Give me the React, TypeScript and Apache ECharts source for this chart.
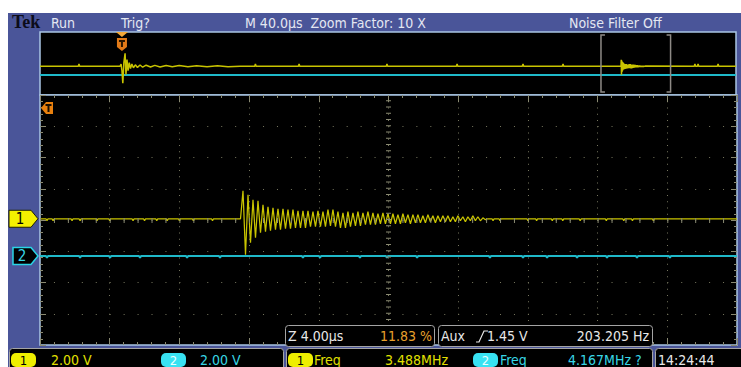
import React, { useEffect, useRef } from "react";
import * as echarts from "echarts";

const W = 741;
const H = 367;

// ---- Acquisition settings ----
const RECORD_SPAN_US = 400; // M 40.0 µs/div x 10 div
const ZOOM_SPAN_US = 40; // Z 4.00 µs/div x 10 div
const ZOOM_START_US = 322.4; // zoom window start inside the record
const TRIGGER_US = 47.1;
const CH1_VOLTS_PER_DIV = 2.0;
const CH2_VOLTS_PER_DIV = 2.0;
const CH1_POS_DIV = 0.04;
const CH2_POS_DIV = -1.15;

// ---- Channel 1: ringing burst, successive half-cycle extremes (V) ----
const CH1_BURST_START_US = 11.65;
const CH1_HALF_PERIOD_US = 0.1434;
const CH1_BURST_V = [
  1.79, -2.3, 1.54, -1.54, 1.22, -1.22, 1.15, -0.9, 0.9, -0.83,
  0.77, -0.77, 0.7, -0.7, 0.64, -0.7, 0.64, -0.64, 0.58, -0.64,
  0.58, -0.58, 0.51, -0.58, 0.51, -0.58, 0.51, -0.51, 0.45, -0.51,
  0.51, -0.51, 0.45, -0.51, 0.58, -0.45, 0.58, -0.51, 0.45, -0.58,
  0.38, -0.58, 0.45, -0.51, 0.38, -0.45, 0.45, -0.45, 0.38, -0.38,
  0.45, -0.38, 0.38, -0.38, 0.32, -0.32, 0.38, -0.32, 0.32, -0.32,
  0.32, -0.32, 0.26, -0.32, 0.32, -0.26, 0.26, -0.32, 0.26, -0.26,
  0.26, -0.26, 0.19, -0.26, 0.26, -0.19, 0.19, -0.26, 0.19, -0.19,
  0.19, -0.19, 0.19, -0.19, 0.13, -0.19, 0.19, -0.13, 0.13, -0.19,
  0.13, -0.13, 0.19, -0.13, 0.13, -0.13, 0.06, -0.06,
];

// Event at the trigger point of the record: [time µs, V]
const CH1_TRIG_EVENT: [number, number][] = [
  [46.0, 0], [46.6, 0.6], [47.1, -1.2], [47.6, -4.6], [48.2, 1.0], [48.9, 3.5],
  [49.4, -2.2], [50.0, 1.8], [50.6, -1.2], [51.3, 1.0], [52.0, -0.6], [52.8, 0.6],
  [53.7, -0.4], [54.8, 0.4], [56.0, -0.3], [57.5, 0.35], [59.0, -0.25], [61.0, 0.3],
  [63.5, -0.2], [66.0, 0.25], [69.0, -0.2], [72.5, 0.2], [76.0, -0.15], [80.0, 0.2],
  [85.0, -0.12], [90.0, 0.18], [96.0, -0.1], [102.0, 0.15], [108.0, -0.1], [115.0, 0],
];

// Isolated glitches on the channel 1 record (µs) and their height (V)
const CH1_RECORD_BLIPS_US = [22.4, 123.8, 148.9, 199.4, 239.7, 277.6, 300.6, 376.4, 378.2, 389.7];
const CH1_RECORD_BLIP_V = 0.6;

// Small negative glitches inside the zoom window (µs)
const CH1_ZOOM_DIPS_US = [0.4, 0.75, 1.84, 2.3, 3.27, 4.0, 5.34, 6.0, 6.7, 7.3, 8.0, 8.8, 9.9,
  26.0, 26.4, 28.0, 28.5, 29.4, 30.0, 31.0, 32.5, 33.5, 34.0, 35.2];
const CH2_ZOOM_DIPS_US = [0.4, 2.3, 4.02, 5.74, 8.44, 10.33, 15.09, 16.07, 18.36, 19.91, 21.64,
  25.82, 27.72, 29.1, 30.82, 32.54, 34.26, 36.15];
const DIP_V = -0.12;

// ---- Screen texts ----
const HEADER_BRAND = "Tek";
const HEADER_STATE = "Run";
const HEADER_TRIG = "Trig?";
const HEADER_TIMEBASE = "M 40.0µs  Zoom Factor: 10 X";
const HEADER_FILTER = "Noise Filter Off";
const ZOOM_READOUT = ["Z 4.00µs", "11.83 %"];
const AUX_READOUT = ["Aux", "1.45 V", "203.205 Hz"];
const CH_SCALE_LABELS = ["2.00 V", "2.00 V"];
const MEAS_LABELS = ["Freq", "3.488MHz", "Freq", "4.167MHz ?"];
const CLOCK = "14:24:44";

// ---- Palette ----
const BLUE = "#4a5599";
const FRAME = "#a9c5e4";
const TICK = "#8a8a72";
const DOT = "#77775f";
const YELLOW = "#c9c400";
const CYAN = "#1fb9c9";
const TXT_YELLOW = "#e2e000";
const TXT_CYAN = "#38d6e6";
const ORANGE = "#e8a02c";
const FONT = '"Liberation Sans Narrow", "DejaVu Sans Condensed", "Roboto Condensed", "Liberation Sans", sans-serif';

type Pt = [number, number];

const byTime = (pts: Pt[]) => [...pts].sort((a, b) => a[0] - b[0]);
const spikes = (times: number[], v: number, half: number): Pt[] =>
  times.flatMap((t) => [[t - half, 0], [t, v], [t + half, 0]] as Pt[]);
const ch1Div = (v: number) => CH1_POS_DIV + v / CH1_VOLTS_PER_DIV;
const ch2Div = (v: number) => CH2_POS_DIV + v / CH2_VOLTS_PER_DIV;

function burstSegment(): Pt[] {
  const pts: Pt[] = CH1_BURST_V.map((v, i) => [CH1_BURST_START_US + i * CH1_HALF_PERIOD_US, v]);
  const end = CH1_BURST_START_US + CH1_BURST_V.length * CH1_HALF_PERIOD_US;
  return [[CH1_BURST_START_US - CH1_HALF_PERIOD_US, 0], ...pts, [end, 0]];
}

function buildOption(): echarts.EChartsOption {
  const burst = burstSegment();
  const ch1Zoom = byTime([[0, 0], ...spikes(CH1_ZOOM_DIPS_US, DIP_V, 0.06), ...burst, [ZOOM_SPAN_US, 0]])
    .map(([t, v]) => [t, ch1Div(v)]);
  const ch2Zoom = byTime([[0, 0], ...spikes(CH2_ZOOM_DIPS_US, DIP_V, 0.06), [ZOOM_SPAN_US, 0]])
    .map(([t, v]) => [t, ch2Div(v)]);
  const ch1Record = byTime([
    [0, 0],
    ...CH1_TRIG_EVENT,
    ...spikes(CH1_RECORD_BLIPS_US, CH1_RECORD_BLIP_V, 0.4),
    ...burst.map(([t, v]) => [t + ZOOM_START_US, v] as Pt),
    [RECORD_SPAN_US, 0],
  ]).map(([t, v]) => [t, ch1Div(v)]);
  const ch2Record = [[0, ch2Div(0)], [RECORD_SPAN_US, ch2Div(0)]];

  const tickStyle = { color: TICK, width: 1 };
  const xEdge = (position: "top" | "bottom", split: boolean) => ({
    type: "value" as const,
    gridIndex: 1,
    position,
    min: 0,
    max: ZOOM_SPAN_US,
    interval: ZOOM_SPAN_US / 10,
    axisLine: { show: false, onZero: false },
    axisLabel: { show: false },
    axisTick: { show: true, inside: true, length: 7, lineStyle: tickStyle },
    minorTick: { show: true, splitNumber: 5, length: 3, lineStyle: tickStyle },
    splitLine: {
      show: split,
      showMinLine: false,
      showMaxLine: false,
      lineStyle: { color: DOT, width: 1, type: [1, 5.25] },
    },
  });
  const yEdge = (position: "left" | "right", split: boolean) => ({
    type: "value" as const,
    gridIndex: 1,
    position,
    min: -4,
    max: 4,
    interval: 1,
    axisLine: { show: false, onZero: false },
    axisLabel: { show: false },
    axisTick: { show: true, inside: true, length: 6, lineStyle: tickStyle },
    minorTick: { show: true, splitNumber: 5, length: 3, lineStyle: tickStyle },
    splitLine: {
      show: split,
      showMinLine: false,
      showMaxLine: false,
      lineStyle: { color: DOT, width: 1, type: [1, 12.94] },
    },
  });

  const line = (xi: number, yi: number, data: number[][], color: string, width: number, z: number) => ({
    type: "line" as const,
    xAxisIndex: xi,
    yAxisIndex: yi,
    data,
    showSymbol: false,
    symbol: "none",
    silent: true,
    z,
    lineStyle: { color, width },
  });

  return {
    animation: false,
    backgroundColor: "#ffffff",
    grid: [
      { left: 40, top: 32, width: 696, height: 63, show: true, backgroundColor: "#000", borderColor: FRAME, borderWidth: 1.5 },
      { left: 40, top: 95, width: 697, height: 250, show: true, backgroundColor: "#000", borderColor: FRAME, borderWidth: 1.5 },
    ],
    xAxis: [
      { type: "value", gridIndex: 0, min: 0, max: RECORD_SPAN_US, show: false },
      xEdge("top", true),
      xEdge("bottom", false),
    ],
    yAxis: [
      { type: "value", gridIndex: 0, min: -3.85, max: 4.69, show: false },
      yEdge("left", true),
      yEdge("right", false),
    ],
    series: [
      line(0, 0, ch2Record, CYAN, 2, 2),
      line(0, 0, ch1Record, YELLOW, 1.5, 3),
      {
        ...line(1, 1, ch2Zoom, CYAN, 2, 2),
        markLine: {
          silent: true,
          symbol: "none",
          label: { show: false },
          animation: false,
          data: [
            { xAxis: ZOOM_SPAN_US / 2, lineStyle: { color: TICK, width: 5, type: [1, 5.25] } },
            { yAxis: 0, lineStyle: { color: TICK, width: 5, type: [1, 12.94] } },
          ],
        },
      },
      line(1, 1, ch1Zoom, YELLOW, 1.25, 3),
    ],
  } as echarts.EChartsOption;
}

function txt(text: string, x: number, y: number, fill: string, size = 14, align = "left", extra: any = {}) {
  return {
    type: "text",
    x,
    y,
    z: 20,
    silent: true,
    style: { text, fill, font: `${size}px ${FONT}`, align, verticalAlign: "middle", ...extra },
  };
}

function box(x: number, y: number, w: number, h: number) {
  return {
    type: "rect",
    z: 15,
    silent: true,
    shape: { x, y, width: w, height: h, r: 3 },
    style: { fill: "#000", stroke: "#a4a4a4", lineWidth: 1 },
  };
}

function badge(x: number, y: number, label: string, fill: string, textFill: string) {
  return [
    { type: "rect", z: 18, silent: true, shape: { x, y, width: 25, height: 14, r: 5 }, style: { fill } },
    txt(label, x + 12.5, y + 7.5, textFill, 13, "center"),
  ];
}

function buildGraphics(chart: echarts.ECharts) {
  const ovX = (t: number) => (chart.convertToPixel({ xAxisIndex: 0, yAxisIndex: 0 }, [t, 0]) as number[])[0];
  const mainY = (d: number) => (chart.convertToPixel({ xAxisIndex: 1, yAxisIndex: 1 }, [0, d]) as number[])[1];

  const y1 = mainY(CH1_POS_DIV);
  const y2 = mainY(CH2_POS_DIV);
  const tx = ovX(TRIGGER_US);
  const xs = ovX(ZOOM_START_US);
  const xe = ovX(ZOOM_START_US + ZOOM_SPAN_US);
  const rowY = 359.5;
  const zY = 336;

  return [
    // instrument frame
    { type: "rect", z: -10, silent: true, shape: { x: 8, y: 13, width: W - 8, height: H - 13 }, style: { fill: BLUE } },

    // header
    {
      type: "text", x: 12, y: 22, z: 20, silent: true,
      style: { text: HEADER_BRAND, fill: "#0c0c1a", font: 'bold 18px "Liberation Serif", "DejaVu Serif", serif', verticalAlign: "middle" },
    },
    txt(HEADER_STATE, 51, 23, "#e4e7f2"),
    txt(HEADER_TRIG, 121, 23, "#e4e7f2"),
    txt(HEADER_TIMEBASE, 245, 23, "#e4e7f2"),
    txt(HEADER_FILTER, 569, 23, "#e4e7f2"),

    // trigger position marker on the record view
    { type: "polygon", z: 20, silent: true, shape: { points: [[tx - 6, 32], [tx + 6, 32], [tx, 37]] }, style: { fill: "#f4a838" } },
    { type: "polygon", z: 20, silent: true, shape: { points: [[tx - 5, 38], [tx + 5, 38], [tx + 5, 47], [tx, 51], [tx - 5, 47]] }, style: { fill: "#e27a18" } },
    { type: "rect", z: 21, silent: true, shape: { x: tx - 3, y: 40, width: 6, height: 2 }, style: { fill: "#2a1600" } },
    { type: "rect", z: 21, silent: true, shape: { x: tx - 1, y: 40, width: 2, height: 7 }, style: { fill: "#2a1600" } },

    // zoom window bracket
    { type: "polyline", z: 20, silent: true, shape: { points: [[xs + 4, 35], [xs, 35], [xs, 92], [xs + 4, 92]] }, style: { stroke: "#8e8a86", lineWidth: 1.5, fill: "none" } },
    { type: "polyline", z: 20, silent: true, shape: { points: [[xe - 4, 35], [xe, 35], [xe, 92], [xe - 4, 92]] }, style: { stroke: "#8e8a86", lineWidth: 1.5, fill: "none" } },

    // trigger off-screen indicator in the zoom view
    { type: "polygon", z: 20, silent: true, shape: { points: [[41, 108], [46, 102], [53, 102], [53, 114], [46, 114]] }, style: { fill: "#e8800e" } },
    { type: "rect", z: 21, silent: true, shape: { x: 45.5, y: 104, width: 6, height: 2 }, style: { fill: "#1a0e00" } },
    { type: "rect", z: 21, silent: true, shape: { x: 47.5, y: 104, width: 2, height: 8 }, style: { fill: "#1a0e00" } },

    // channel ground markers
    {
      type: "polygon", z: 20, silent: true,
      shape: { points: [[9, y1 - 8.5], [31, y1 - 8.5], [38, y1], [31, y1 + 8.5], [9, y1 + 8.5]] },
      style: { fill: "#f4f000", stroke: "#202000", lineWidth: 1 },
    },
    txt("1", 20, y1 + 0.5, "#000", 15, "center"),
    {
      type: "polygon", z: 20, silent: true,
      shape: { points: [[13, y2 - 8.5], [31, y2 - 8.5], [38, y2], [31, y2 + 8.5], [13, y2 + 8.5]] },
      style: { fill: "#000", stroke: "#2ad4e6", lineWidth: 1.5 },
    },
    txt("2", 22, y2 + 0.5, TXT_CYAN, 15, "center"),

    // zoom / aux readouts
    box(285.5, 325.5, 149, 21),
    txt(ZOOM_READOUT[0], 288, zY, "#e8e8e8"),
    txt(ZOOM_READOUT[1], 432, zY, ORANGE, 14, "right"),
    box(438.5, 325.5, 214, 21),
    txt(AUX_READOUT[0], 441, zY, "#e8e8e8"),
    {
      type: "polyline", z: 20, silent: true,
      shape: { points: [[476, 342], [479, 342], [484, 331], [488, 331]] },
      style: { stroke: "#e8e8e8", lineWidth: 1.2, fill: "none" },
    },
    txt(AUX_READOUT[1], 487, zY, "#e8e8e8"),
    txt(AUX_READOUT[2], 649, zY, "#e8e8e8", 14, "right"),

    // bottom status row
    box(9.5, 348.5, 274, 26),
    ...badge(11, 353, "1", "#eeee00", "#000"),
    txt(CH_SCALE_LABELS[0], 51, rowY, TXT_YELLOW),
    ...badge(161, 353, "2", "#38e2f2", "#e8ffff"),
    txt(CH_SCALE_LABELS[1], 200, rowY, TXT_CYAN),
    box(286.5, 348.5, 366, 26),
    ...badge(288, 353, "1", "#eeee00", "#000"),
    txt(MEAS_LABELS[0], 314, rowY, TXT_YELLOW),
    txt(MEAS_LABELS[1], 385, rowY, TXT_YELLOW),
    ...badge(473, 353, "2", "#38e2f2", "#e8ffff"),
    txt(MEAS_LABELS[2], 500, rowY, TXT_CYAN),
    txt(MEAS_LABELS[3], 568, rowY, TXT_CYAN),
    box(655.5, 348.5, 90, 26),
    txt(CLOCK, 658, rowY, "#e8e8e8"),
  ];
}

export default function App() {
  const ref = useRef<HTMLDivElement>(null);
  useEffect(() => {
    if (!ref.current) return;
    const chart = echarts.init(ref.current, undefined, { renderer: "svg", width: W, height: H });
    chart.setOption(buildOption());
    chart.setOption({ graphic: buildGraphics(chart) } as any);
    return () => chart.dispose();
  }, []);
  return (
    <div
      ref={ref}
      style={{ position: "fixed", left: 0, top: 0, width: W, height: H, background: "#fff" }}
    />
  );
}
